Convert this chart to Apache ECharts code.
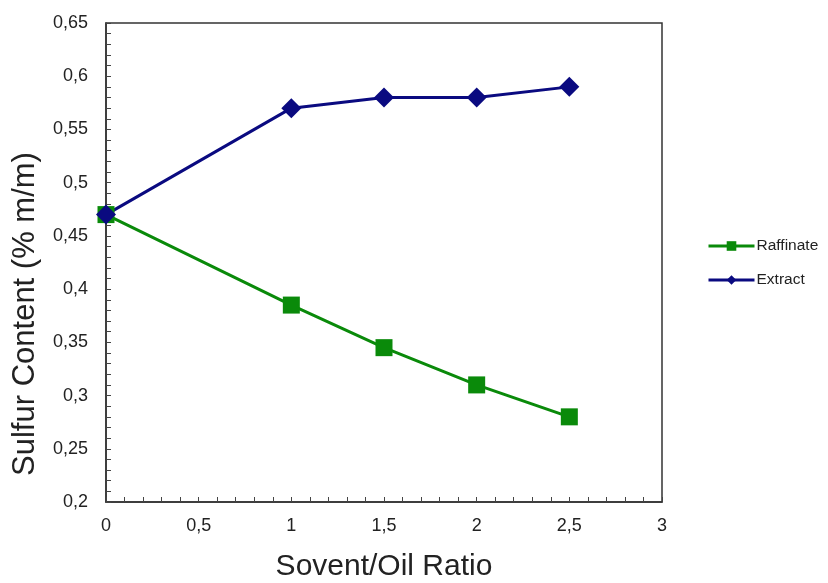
<!DOCTYPE html>
<html>
<head>
<meta charset="utf-8">
<script src="https://cdn.jsdelivr.net/npm/echarts@6/dist/echarts.min.js"></script>
<style>
  html, body { margin: 0; padding: 0; background: #fff; }
  #chart { width: 828px; height: 583px; }
</style>
</head>
<body>
<div id="chart"></div>
<script>
// solvent/oil ratio
const ratios = [0, 1, 1.5, 2, 2.5];
const raffinate = [0.47, 0.385, 0.345, 0.31, 0.28];
const extract = [0.47, 0.57, 0.58, 0.58, 0.59];
const seriesNames = ["Raffinate", "Extract"];

const fmt = v => String(parseFloat(v.toFixed(2))).replace(".", ",");

const myChart = echarts.init(document.getElementById("chart"));
myChart.setOption({
  animation: false,
  textStyle: { fontFamily: "Liberation Sans, Arial, sans-serif" },
  grid: {
    left: 106, right: 166, top: 23, bottom: 81, outerBoundsMode: "none",
    show: true, borderColor: "#333", borderWidth: 1.5
  },
  legend: {
    orient: "vertical", left: 707, top: 238, padding: 0, itemGap: 18, itemWidth: 46, itemHeight: 12,
    lineStyle: { width: 3 },
    textStyle: { fontSize: 15.5, color: "#222", padding: [0, 0, 0, -3] },
    data: seriesNames
  },
  // y title drawn as rotated text so it can sit a little below centre like the original
  graphic: [{
    type: "text", x: 25, y: 314, rotation: Math.PI / 2,
    style: {
      text: "Sulfur Content (% m/m)", fontSize: 31, fill: "#222",
      fontFamily: "Liberation Sans, Arial, sans-serif",
      align: "center", verticalAlign: "middle"
    }
  }],
  xAxis: {
    type: "value", min: 0, max: 3, interval: 0.5,
    name: "Sovent/Oil Ratio", nameLocation: "middle", nameGap: 50,
    nameTextStyle: { fontSize: 30, color: "#222" },
    axisLine: { lineStyle: { color: "#333", width: 1.5 } },
    axisTick: { inside: true, length: 5, lineStyle: { color: "#444" } },
    minorTick: { show: true, splitNumber: 5, length: 5, lineStyle: { color: "#444" } },
    axisLabel: { fontSize: 18, color: "#222", margin: 15, formatter: fmt },
    splitLine: { show: false }
  },
  yAxis: {
    type: "value", min: 0.2, max: 0.65, interval: 0.05,
    axisLine: { show: true, lineStyle: { color: "#333", width: 1.5 } },
    axisTick: { show: true, inside: true, length: 5, lineStyle: { color: "#444" } },
    minorTick: { show: true, splitNumber: 5, length: 5, lineStyle: { color: "#444" } },
    axisLabel: { fontSize: 18, color: "#222", margin: 18, formatter: fmt },
    splitLine: { show: false }
  },
  series: [
    {
      name: seriesNames[0], type: "line",
      data: ratios.map((x, i) => [x, raffinate[i]]),
      symbol: "rect", symbolSize: 17,
      lineStyle: { color: "#0a8a0a", width: 3 },
      itemStyle: { color: "#0a8a0a" }
    },
    {
      name: seriesNames[1], type: "line",
      data: ratios.map((x, i) => [x, extract[i]]),
      symbol: "diamond", symbolSize: 20,
      lineStyle: { color: "#0a0a80", width: 3 },
      itemStyle: { color: "#0a0a80" }
    }
  ]
});
window.addEventListener("resize", () => { myChart.resize(); });
</script>
</body>
</html>
